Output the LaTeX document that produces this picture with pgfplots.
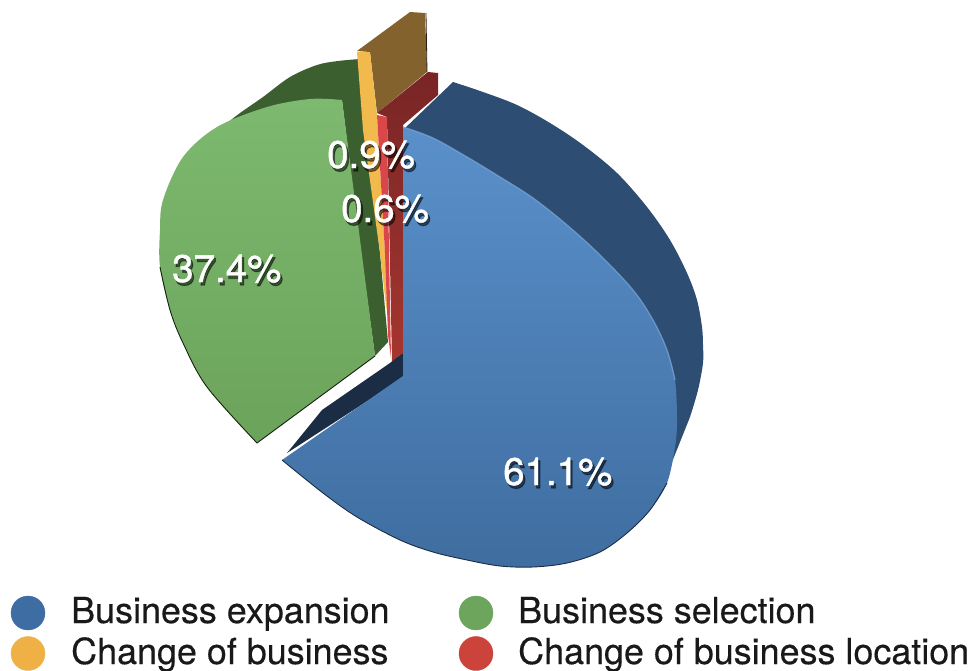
\documentclass[border=0pt]{standalone}
\usepackage{pgfplots}
\pgfplotsset{compat=1.18}
\usepackage{fontspec}
\setmainfont{TeX Gyre Heros}
\newfontfamily\pctfont[FakeBold=1.1]{TeX Gyre Heros}
\newfontfamily\haloA[FakeBold=3.2]{TeX Gyre Heros}
\newfontfamily\haloB[FakeBold=1.4]{TeX Gyre Heros}
\newfontfamily\keyfont[FakeBold=0.3]{TeX Gyre Heros}

\definecolor{blueside}{HTML}{2D4D72}
\definecolor{bluetopA}{HTML}{5A90CA}
\definecolor{bluetopB}{HTML}{4878AC}
\definecolor{bluetopC}{HTML}{3F6DA0}
\definecolor{bluenotch}{HTML}{1B2D44}
\definecolor{greenside}{HTML}{3C5F30}
\definecolor{greentopA}{HTML}{7DB96F}
\definecolor{greentopB}{HTML}{6CA35B}
\definecolor{yellowface}{HTML}{F2B94D}
\definecolor{yellowside}{HTML}{84622E}
\definecolor{redface}{HTML}{D9474B}
\definecolor{redside}{HTML}{782526}
\definecolor{redsideB}{HTML}{A5362F}
\definecolor{keyblue}{HTML}{3D6DA3}
\definecolor{keygreen}{HTML}{6DA55C}
\definecolor{keyyellow}{HTML}{EFB046}
\definecolor{keyred}{HTML}{CB433A}

% white label over a soft dark shadow
\newcommand{\pctlabel}[3]{%
  \node[anchor=base west,inner sep=0pt,text=black,text opacity=0.22,
    font=\haloA\fontsize{38.5pt}{42pt}\selectfont] at (axis cs:#1+2,#2+3) {#3};%
  \node[anchor=base west,inner sep=0pt,text=black,text opacity=0.38,
    font=\haloB\fontsize{38.5pt}{42pt}\selectfont] at (axis cs:#1+2,#2+3) {#3};%
  \node[anchor=base west,inner sep=0pt,text=white,
    font=\pctfont\fontsize{38.5pt}{42pt}\selectfont] at (axis cs:#1,#2) {#3};%
}
\newcommand{\keylabel}[3]{%
  \node[anchor=base west,inner sep=0pt,text=black!90,
    font=\keyfont\fontsize{35.9pt}{40pt}\selectfont] at (axis cs:#1,#2) {#3};%
}

\begin{document}
\begin{tikzpicture}
\useasboundingbox (0,0) rectangle (973pt,670pt);
\begin{axis}[
  scale only axis, width=973pt, height=670pt,
  xmin=0, xmax=973, ymin=0, ymax=670, y dir=reverse,
  hide axis, clip=false,
  every axis plot/.append style={tension=0.55},
]
% rim of the large slice
\addplot[draw=none, fill=blueside, smooth] coordinates {
  (453,82) (483,92) (517,105) (550,123) (583,145) (617,173) (647,207)
  (670,240) (687,273) (697,300) (702,327) (703,345) (703,363) (698,390) (690,417)}
  -- (axis cs:670,467) -- (axis cs:640,400) -- (axis cs:560,260) -- (axis cs:403,150) -- (axis cs:403,130) -- cycle;

% rear faces of the two thin slices
\addplot[draw=none, fill=yellowside] coordinates {
  (357,51) (410,12) (425,13) (427,72) (377,113) (370,52)} -- cycle;
\addplot[draw=none, top color=redside, middle color=redside, bottom color=redsideB] coordinates {
  (377,113) (428,72) (438,73) (438,95) (403,125) (403,353) (392,362) (387,117)} -- cycle;
\addplot[draw=black!70!yellowside, line width=0.8pt] coordinates {(426,13) (427,72)};

% rim of the pulled-out green slice
\addplot[draw=none, fill=greenside, smooth] coordinates {
  (226,124) (240,113) (263,97) (290,77) (317,65) (338,61) (360,59)}
  -- (axis cs:366,130) -- (axis cs:380,253) -- (axis cs:388,342) -- (axis cs:375,356)
  -- (axis cs:358,230) -- (axis cs:342,100) -- (axis cs:267,108) -- cycle;

% fronts of the two thin slices
\addplot[draw=none, fill=yellowface] coordinates {
  (357,52) (370,52) (377,115) (385,253) (390,307) (390,335) (385,297) (380,253) (363,130)} -- cycle;
\addplot[draw=none, fill=redface] coordinates {
  (377,115) (387,117) (389,250) (391,358) (388,335) (385,253)} -- cycle;

% inner wall below the large slice
\addplot[draw=none, fill=bluenotch] coordinates {
  (287,453) (322,410) (390,363) (403,353) (403,378)} -- cycle;

% top face of the green slice
\addplot[draw=none, smooth, top color=greentopA, bottom color=greentopB] coordinates {
  (342,100) (310,99) (267,107) (217,127) (183,157) (163,200) (160,230) (160,267)
  (170,310) (183,343) (207,387) (257,443)}
  -- (axis cs:375,356) -- cycle;
\addplot[draw=black!65!greenside, line width=0.9pt, smooth] coordinates {
  (160,267) (170,310) (183,343) (207,387) (257,443)} -- (axis cs:375,356);

% top face of the blue slice
\addplot[draw=none, smooth, top color=bluetopA, middle color=bluetopB, bottom color=bluetopC] coordinates {
  (403,127) (433,138) (467,157) (500,177) (533,198) (567,225) (600,255) (633,290)
  (653,320) (667,350) (675,380) (677,420) (675,447) (667,483) (650,510) (627,533)
  (600,552) (567,563) (533,567) (500,566) (467,560) (433,552) (400,540) (357,517)
  (323,493) (282,460)}
  -- (axis cs:403,376) -- cycle;
\addplot[draw=bluenotch, line width=0.9pt, smooth] coordinates {
  (667,483) (650,510) (627,533) (600,552) (567,563) (533,567) (500,566) (467,560)
  (433,552) (400,540) (357,517) (323,493) (282,460)};
\addplot[draw=bluetopA!80!white, draw opacity=0.7, line width=1.3pt, smooth] coordinates {
  (403,127) (433,138) (467,157) (500,177) (533,198) (567,225) (600,255) (633,290)
  (653,320) (667,350) (675,380)};

% percentages
\pctlabel{503}{485}{61.1\%}
\pctlabel{172}{282}{37.4\%}
\pctlabel{327}{168}{0.9\%}
\pctlabel{341}{222}{0.6\%}

% key
\addplot[only marks, color=keyblue, mark=*, mark size=17pt, mark options={draw=keyblue, fill=keyblue}] coordinates {(28,613)};
\addplot[only marks, color=keygreen, mark=*, mark size=17pt, mark options={draw=keygreen, fill=keygreen}] coordinates {(476,613)};
\addplot[only marks, color=keyyellow, mark=*, mark size=17pt, mark options={draw=keyyellow, fill=keyyellow}] coordinates {(28,653.5)};
\addplot[only marks, color=keyred, mark=*, mark size=17pt, mark options={draw=keyred, fill=keyred}] coordinates {(476,653.5)};
\keylabel{71}{623}{Business expansion}
\keylabel{518}{623}{Business selection}
\keylabel{71}{664}{Change of business}
\keylabel{518}{664}{Change of business location}
\end{axis}
\end{tikzpicture}
\end{document}
